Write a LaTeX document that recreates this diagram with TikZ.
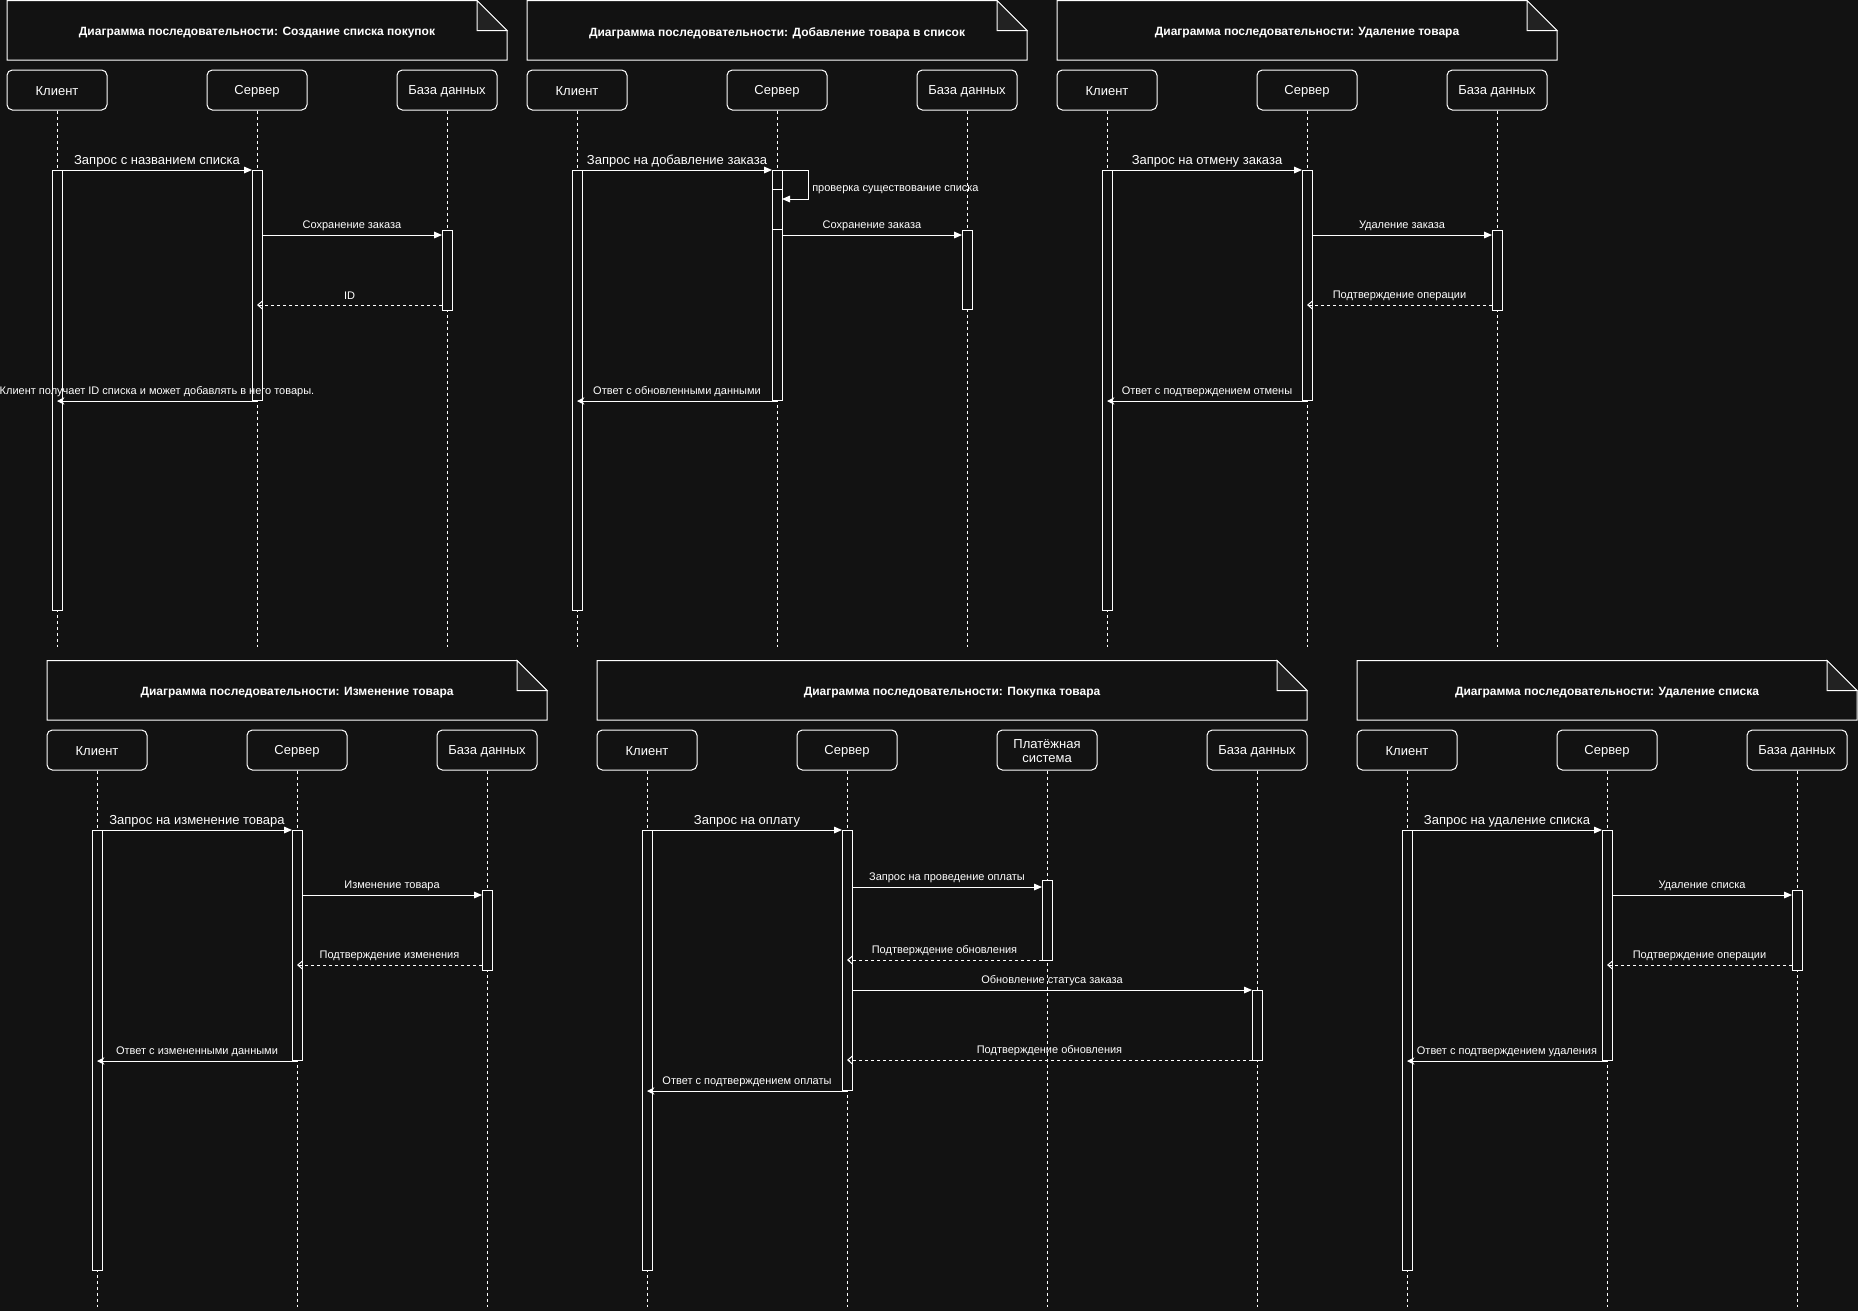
\documentclass[tikz,border=0pt]{standalone}
\usepackage{fontspec}
\setmainfont{Liberation Sans}
\usetikzlibrary{arrows.meta,fit}
\definecolor{bg}{HTML}{121212}
\definecolor{foldc}{HTML}{222222}
\tikzset{
  ln/.style={draw=white, line width=0.75pt},
  notebox/.style={draw=white, line width=0.75pt, fill=bg},
  foldbox/.style={draw=white, line width=0.75pt, fill=foldc},
  actor/.style={draw=white, rounded corners=4pt, line width=0.75pt, minimum width=75pt, minimum height=30pt, inner sep=0pt},
  actortxt/.style={inner sep=0pt, align=center, text=white, font=\fontsize{9.75}{10.5}\selectfont},
  life/.style={draw=white, line width=0.75pt, dash pattern=on 2.25pt off 2.25pt},
  act/.style={draw=white, fill=bg, line width=0.75pt, inner sep=0pt},
  msg/.style={draw=white, line width=0.75pt, -{Triangle[length=6pt,width=5pt]}},
  ret/.style={draw=white, line width=0.75pt, -{Stealth[length=5.5pt,width=5.5pt,inset=1.5pt]}},
  dret/.style={draw=white, line width=0.75pt, dash pattern=on 2.25pt off 2.25pt, -{Straight Barb[length=3.5pt,width=6pt]}},
  lbl/.style={midway, yshift=6.75pt, text=white, font=\fontsize{8.25}{9}\selectfont, inner sep=0pt},
  lblL/.style={midway, yshift=6.75pt, text=white, font=\fontsize{9.75}{11}\selectfont, inner sep=0pt},
  freelbl/.style={text=white, font=\fontsize{8.25}{9}\selectfont, inner sep=0pt},
  ttl/.style={text=white, font=\bfseries\fontsize{9}{10}\selectfont, inner sep=0pt}
}
% note frame with folded corner
\newcommand{\Head}[3]{%
  \path[notebox] (7,0.5) -- ({#2-30},0.5) -- (#2,30.5) -- (#2,60) -- (7,60) -- cycle;
  \path[foldbox] ({#2-30},0.5) -- ({#2-30},30.5) -- (#2,30.5) -- cycle;
  \node[ttl] (#1t) at ({(7+#2)/2},33) {#3};
}
% participant with lifeline
\newcommand{\Actor}[4]{%
  \node[actor] (#1) at (#2,90) {};
  \node[actortxt] (#1x) at (#2,91.5) {#3};
  \coordinate (#1e) at (#2,#4);
  \draw[life] (#1) -- (#1e);
}
% activation bar
\newcommand{\Act}[4]{%
  \coordinate (#1a) at ({#2-5},#3);
  \coordinate (#1b) at ({#2+5},#4);
  \node[act, fit=(#1a)(#1b)] (#1) {};
}
% message
\newcommand{\Msg}[7]{%
  \coordinate (#2a) at (#3,#5);
  \coordinate (#2b) at (#4,#5);
  \draw[#1] (#2a) -- node[#7] (#2l) {#6} (#2b);
}
% standard three-lane diagram
\newcommand{\Std}[6]{%
  \Head{#1}{507}{#2}
  \Actor{#1c}{57}{Клиент}{647}
  \Actor{#1s}{257}{Сервер}{647}
  \Actor{#1d}{447}{База данных}{647}
  \Act{#1ac}{57}{170}{610}
  \Act{#1as}{257}{170}{400}
  \Act{#1ad}{447}{230}{310}
  \Msg{msg}{#1m1}{62}{252}{170}{#3}{lblL}
  \Msg{msg}{#1m2}{262}{442}{235}{#4}{lbl}
  \Msg{dret}{#1m3}{442}{257}{305}{#5}{lbl}
  \Msg{ret}{#1m4}{257}{57}{401}{#6}{lbl}
}
\begin{document}
\begin{tikzpicture}[x=0.75pt, y=-0.75pt]
\fill[bg] (0,0) rectangle (1858,1311);
\useasboundingbox (0,0) rectangle (1858,1311);

% 1: Создание списка покупок
\begin{scope}
  \Std{A}{Диаграмма последовательности: Создание списка покупок}
      {Запрос с названием списка}{Сохранение заказа}{ID}
      {Клиент получает ID списка и может добавлять в него товары.}
\end{scope}

% 2: Добавление товара в список
\begin{scope}[shift={(520,0)}]
  \Head{B}{507}{Диаграмма последовательности: Добавление товара в список}
  \Actor{Bc}{57}{Клиент}{647}
  \Actor{Bs}{257}{Сервер}{647}
  \Actor{Bd}{447}{База данных}{647}
  \Act{Bac}{57}{170}{610}
  \Act{Bas}{257}{170}{400}
  \Act{Basn}{257}{189}{229}
  \Act{Bad}{447}{230}{309}
  \Msg{msg}{Bm1}{62}{252}{170}{Запрос на добавление заказа}{lblL}
  \coordinate (Bsa) at (262,170);
  \coordinate (Bsb) at (262,199);
  \draw[msg] (Bsa) -- ++(26,0) |- (Bsb);
  \node[freelbl, anchor=west] (Bsl) at (292,189.5) {проверка существование списка};
  \Msg{msg}{Bm2}{262}{442}{235}{Сохранение заказа}{lbl}
  \Msg{ret}{Bm4}{257}{57}{401}{Ответ с обновленными данными}{lbl}
\end{scope}

% 3: Удаление товара
\begin{scope}[shift={(1050,0)}]
  \Std{C}{Диаграмма последовательности: Удаление товара}
      {Запрос на отмену заказа}{Удаление заказа}{Подтверждение операции}
      {Ответ с подтверждением отмены}
\end{scope}

% 4: Изменение товара
\begin{scope}[shift={(40,660)}]
  \Std{D}{Диаграмма последовательности: Изменение товара}
      {Запрос на изменение товара}{Изменение товара}{Подтверждение изменения}
      {Ответ с измененными данными}
\end{scope}

% 5: Покупка товара
\begin{scope}[shift={(590,660)}]
  \Head{E}{717}{Диаграмма последовательности: Покупка товара}
  \Actor{Ec}{57}{Клиент}{647}
  \Actor{Es}{257}{Сервер}{647}
  \Actor{Ep}{457}{Платёжная\\система}{647}
  \Actor{Ed}{667}{База данных}{647}
  \Act{Eac}{57}{170}{610}
  \Act{Eas}{257}{170}{430}
  \Act{Eap}{457}{220}{300}
  \Act{Ead}{667}{330}{400}
  \Msg{msg}{Em1}{62}{252}{170}{Запрос на оплату}{lblL}
  \Msg{msg}{Em2}{262}{452}{227}{Запрос на проведение оплаты}{lbl}
  \Msg{dret}{Em3}{452}{257}{300}{Подтверждение обновления}{lbl}
  \Msg{msg}{Em4}{262}{662}{330}{Обновление статуса заказа}{lbl}
  \Msg{dret}{Em5}{662}{257}{400}{Подтверждение обновления}{lbl}
  \Msg{ret}{Em6}{257}{57}{431}{Ответ с подтверждением оплаты}{lbl}
\end{scope}

% 6: Удаление списка
\begin{scope}[shift={(1350,660)}]
  \Std{F}{Диаграмма последовательности: Удаление списка}
      {Запрос на удаление списка}{Удаление списка}{Подтверждение операции}
      {Ответ с подтверждением удаления}
\end{scope}
\end{tikzpicture}
\end{document}
